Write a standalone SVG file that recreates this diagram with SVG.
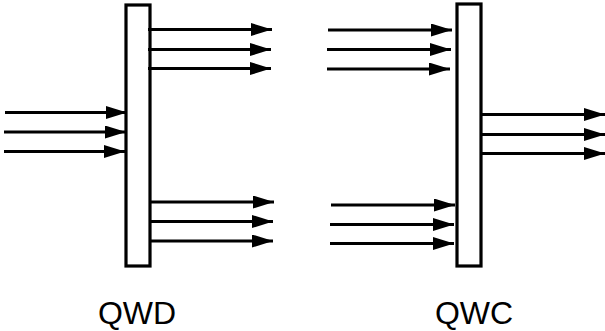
<svg xmlns="http://www.w3.org/2000/svg" width="605" height="331" viewBox="0 0 605 331">
<style>
.bar{fill:#fff;stroke:#000;stroke-width:3.2}
.c line{stroke:#000;stroke-width:3.2;marker-end:url(#ah)}
.lbl{font-family:"Liberation Sans",Arial,sans-serif;font-size:32px;fill:#000;text-anchor:middle}
</style>
<defs>
<marker id="ah" markerUnits="userSpaceOnUse" markerWidth="21" markerHeight="13" refX="21" refY="6.5" orient="auto" viewBox="0 0 21 13">
<path d="M0,0 L21,6.5 L0,13 z" fill="#000"/>
</marker>
</defs>
<g id="qwd">
<rect class="bar" x="126" y="5" width="24" height="261"/>
<text class="lbl" x="137" y="324">QWD</text>
</g>
<g id="qwc">
<rect class="bar" x="457" y="4" width="24" height="262"/>
<text class="lbl" x="474" y="324">QWC</text>
</g>
<g class="c" id="connectors">
<line x1="5" y1="112.5" x2="127" y2="112.5"/>
<line x1="4" y1="132" x2="126" y2="132"/>
<line x1="4" y1="151.5" x2="125" y2="151.5"/>
<line x1="148" y1="29.5" x2="272" y2="29.5"/>
<line x1="148" y1="49.5" x2="271" y2="49.5"/>
<line x1="148" y1="68.5" x2="271" y2="68.5"/>
<line x1="150" y1="202" x2="274" y2="202"/>
<line x1="150" y1="221.5" x2="273" y2="221.5"/>
<line x1="150" y1="241" x2="273" y2="241"/>
<line x1="328" y1="30" x2="452" y2="30"/>
<line x1="327" y1="49.5" x2="451" y2="49.5"/>
<line x1="327" y1="69" x2="450" y2="69"/>
<line x1="331" y1="205" x2="455" y2="205"/>
<line x1="330" y1="224.5" x2="454" y2="224.5"/>
<line x1="330" y1="243.5" x2="454" y2="243.5"/>
<line x1="481" y1="114.5" x2="605" y2="114.5"/>
<line x1="481" y1="134.5" x2="605" y2="134.5"/>
<line x1="481" y1="153.5" x2="605" y2="153.5"/>
</g>
</svg>
